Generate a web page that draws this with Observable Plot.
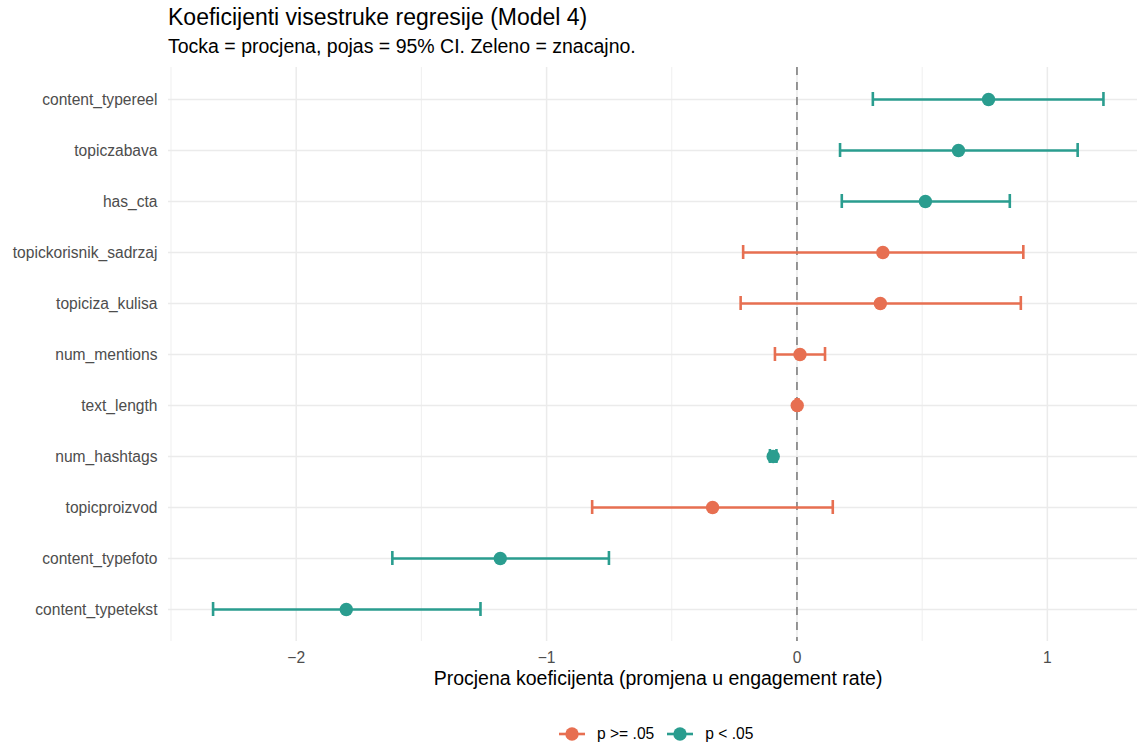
<!DOCTYPE html>
<html>
<head>
<meta charset="utf-8">
<script src="https://cdn.jsdelivr.net/npm/d3@7"></script>
<script src="https://cdn.jsdelivr.net/npm/@observablehq/plot@0.6"></script>
<style>
  html, body { margin: 0; padding: 0; background: #fff; }
  #wrap { position: relative; width: 1137px; height: 744px; overflow: hidden; font-family: "Liberation Sans", Arial, sans-serif; }
  #title { position: absolute; left: 168px; top: 6px; font-size: 23px; line-height: 23px; color: #000; white-space: nowrap; }
  #subtitle { position: absolute; left: 168px; top: 37px; font-size: 19.5px; line-height: 19.5px; color: #000; white-space: nowrap; }
  #chart { position: absolute; left: 0; top: 0; }
  #legend { position: absolute; left: 559px; top: 724px; height: 20px; display: flex; align-items: center; font-size: 15.6px; color: #000; white-space: nowrap; }
  #legend .key { display: flex; align-items: center; }
  #legend svg { display: block; }
</style>
</head>
<body>
<div id="wrap">
  <div id="chart"></div>
  <div id="title"></div>
  <div id="subtitle"></div>
  <div id="legend"></div>
</div>
<script>
const titleText = "Koeficijenti visestruke regresije (Model 4)";
const subtitleText = "Tocka = procjena, pojas = 95% CI. Zeleno = znacajno.";
const xLabel = "Procjena koeficijenta (promjena u engagement rate)";

const terms = ["content_typereel","topiczabava","has_cta","topickorisnik_sadrzaj","topiciza_kulisa","num_mentions","text_length","num_hashtags","topicproizvod","content_typefoto","content_typetekst"];
const estimates = [0.765, 0.645, 0.513, 0.343, 0.333, 0.012, 0.001, -0.095, -0.337, -1.185, -1.800];
const ciLow = [0.303, 0.172, 0.179, -0.215, -0.225, -0.088, -0.004, -0.108, -0.818, -1.616, -2.332];
const ciHigh = [1.224, 1.121, 0.850, 0.904, 0.894, 0.112, 0.006, -0.082, 0.143, -0.751, -1.264];
const significance = ["p < .05","p < .05","p < .05","p >= .05","p >= .05","p >= .05","p >= .05","p < .05","p >= .05","p < .05","p < .05"];

const legendLabels = ["p >= .05", "p < .05"];
const legendColors = ["#E76F51", "#2A9D8F"];
const xTicks = [-2, -1, 0, 1];
const xTickLabels = ["\u22122", "\u22121", "0", "1"];
const xMinor = [-2.5, -1.5, -0.5, 0.5];

const rows = terms.map((t, i) => ({term: t, est: estimates[i], lo: ciLow[i], hi: ciHigh[i], sig: significance[i]}));

document.getElementById("title").textContent = titleText;
document.getElementById("subtitle").textContent = subtitleText;

const grid = "#ebebeb";
const chart = Plot.plot({
  width: 1137,
  height: 744,
  marginTop: 67,
  marginBottom: 103,
  marginLeft: 168,
  marginRight: 0,
  style: {fontFamily: "'Liberation Sans', Arial, sans-serif", background: "transparent", overflow: "visible"},
  x: {domain: [-2.51, 1.36]},
  y: {type: "point", domain: terms, padding: 0.6},
  color: {domain: legendLabels, range: legendColors},
  marks: [
    Plot.ruleX(xMinor, {stroke: grid, strokeWidth: 0.8}),
    Plot.ruleX(xTicks, {stroke: grid, strokeWidth: 1.5}),
    Plot.ruleY(terms, {stroke: grid, strokeWidth: 1.6}),
    Plot.ruleX([0], {stroke: "#666666", strokeWidth: 1.3, strokeDasharray: "8,7"}),
    Plot.link(rows, {x1: "lo", x2: "hi", y1: "term", y2: "term", stroke: "sig", strokeWidth: 2.6}),
    Plot.ruleX(rows, {x: "lo", y1: "term", y2: "term", stroke: "sig", strokeWidth: 2.6, insetTop: -7, insetBottom: -7}),
    Plot.ruleX(rows, {x: "hi", y1: "term", y2: "term", stroke: "sig", strokeWidth: 2.6, insetTop: -7, insetBottom: -7}),
    Plot.dot(rows, {x: "est", y: "term", fill: "sig", r: 6.7}),
    Plot.axisX({ticks: xTicks, tickFormat: d => xTickLabels[xTicks.indexOf(d)], tickSize: 0, tickPadding: 10, fontSize: 15.6, fill: "#4d4d4d", label: null}),
    Plot.axisY({tickSize: 0, tickPadding: 11, fontSize: 15.6, fill: "#4d4d4d", label: null}),
    Plot.text([xLabel], {frameAnchor: "bottom", dy: 37, dx: 5, fontSize: 19.5, fill: "#000", lineAnchor: "middle", text: d => d})
  ]
});
document.getElementById("chart").appendChild(chart);

// legend
const legend = document.getElementById("legend");
legendLabels.forEach((lab, i) => {
  const key = document.createElement("div");
  key.className = "key";
  key.style.marginRight = i === 0 ? "13px" : "0";
  key.innerHTML = `<svg width="26" height="20"><line x1="0" x2="26" y1="10" y2="10" stroke="${legendColors[i]}" stroke-width="2.6"/><circle cx="13" cy="10" r="6.7" fill="${legendColors[i]}"/></svg><span style="margin-left:12px">${lab.replace(/</g,"&lt;").replace(/>/g,"&gt;")}</span>`;
  legend.appendChild(key);
});
</script>
</body>
</html>
